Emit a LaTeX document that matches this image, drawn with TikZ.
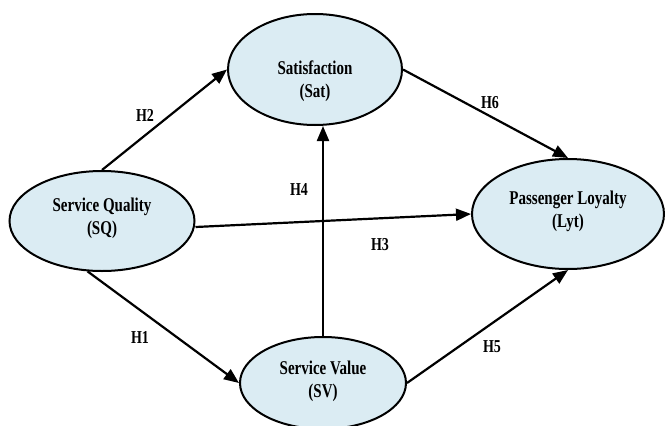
\documentclass[tikz,border=0pt]{standalone}
\usepackage{fontspec}
\setmainfont{Liberation Serif}
\usetikzlibrary{shapes.geometric,arrows.meta}
\definecolor{fillblue}{RGB}{219,236,243}
\newcommand{\tallx}[1]{\scalebox{1}[1.3]{#1}}
\begin{document}
\begin{tikzpicture}[x=1pt,y=-1pt,
  construct/.style={ellipse,draw=black,line width=2pt,fill=fillblue,inner sep=0pt},
  txt/.style={align=center,font=\fontsize{15}{23}\selectfont\bfseries,inner sep=0pt},
  hlab/.style={font=\fontsize{14}{16}\selectfont\bfseries,inner sep=0pt},
  link/.style={line width=2.2pt,-{Triangle[length=15pt,width=12pt]}}]
\useasboundingbox (0,0) rectangle (665,426);
\node[construct,minimum width=174pt,minimum height=111pt] (sat) at (315,69.5) {};
\node[construct,minimum width=185pt,minimum height=100pt] (sq) at (102,221) {};
\node[construct,minimum width=192pt,minimum height=110pt] (pl) at (568,214) {};
\node[construct,minimum width=166pt,minimum height=92pt] (sv) at (323,383) {};
\node[txt] (satT) at (315,81) {\tallx{Satisfaction}\\\tallx{(Sat)}};
\node[txt] (sqT) at (102,218) {\tallx{Service Quality}\\\tallx{(SQ)}};
\node[txt] (plT) at (568,211) {\tallx{Passenger Loyalty}\\\tallx{(Lyt)}};
\node[txt] (svT) at (323,381) {\tallx{Service Value}\\\tallx{(SV)}};
\draw[link] (sq.north) -- (sat.west);
\draw[link] (sv.north) -- (sv.north |- sat.south);
\draw[link] ([yshift=-6pt]sq.east) -- (pl.west);
\draw[link] (sq.254) -- (sv.west);
\draw[link] (sv.east) -- (pl.south);
\draw[link] (sat.east) -- (pl.north);
\node[hlab] (h2) at (145,115) {\tallx{H2}};
\node[hlab] (h4) at (299,190) {\tallx{H4}};
\node[hlab] (h3) at (380,245) {\tallx{H3}};
\node[hlab] (h1) at (140,337) {\tallx{H1}};
\node[hlab] (h5) at (492,347) {\tallx{H5}};
\node[hlab] (h6) at (490,103) {\tallx{H6}};
\end{tikzpicture}
\end{document}
